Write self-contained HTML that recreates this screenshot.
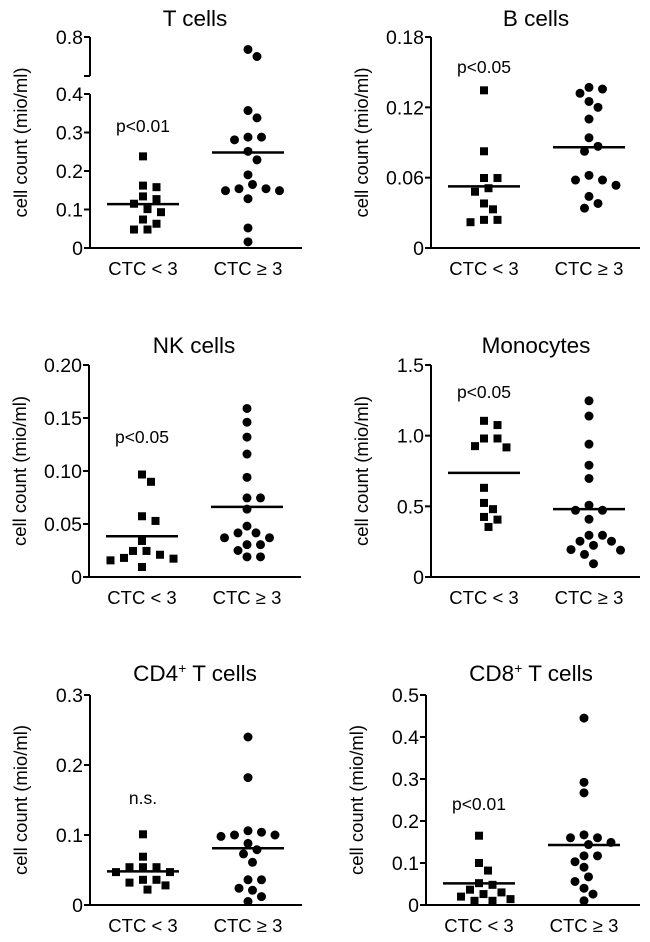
<!DOCTYPE html>
<html><head><meta charset="utf-8">
<style>
html,body{margin:0;padding:0;background:#fff;}
svg{display:block;font-family:"Liberation Sans",Arial,sans-serif;}
</style></head>
<body>
<svg id="fig" width="650" height="942" viewBox="0 0 650 942"></svg>
<script>
// ---- data ----
const categories = ["CTC < 3", "CTC \u2265 3"];
const tLow = [0.238,0.162,0.158,0.134,0.127,0.115,0.101,0.093,0.074,0.063,0.048,0.048];
const tHigh = [0.736,0.70,0.357,0.338,0.288,0.288,0.281,0.251,0.229,0.190,0.165,0.154,0.149,0.149,0.154,0.128,0.052,0.016];
const tMed = [0.114,0.248];
const bLow = [0.1345,0.0825,0.0597,0.0597,0.051,0.048,0.038,0.033,0.024,0.024,0.022];
const bHigh = [0.137,0.1356,0.132,0.125,0.12,0.110,0.094,0.0867,0.0825,0.062,0.058,0.058,0.0535,0.044,0.038,0.034];
const bMed = [0.0526,0.0859];
const nkLow = [0.0967,0.0898,0.0573,0.0529,0.034,0.0246,0.0246,0.021,0.018,0.0173,0.0157,0.0094];
const nkHigh = [0.159,0.146,0.132,0.116,0.094,0.0746,0.0746,0.064,0.048,0.0416,0.0416,0.037,0.037,0.0305,0.0305,0.025,0.019,0.019];
const nkMed = [0.0384,0.0661];
const moLow = [1.105,1.075,0.98,0.98,0.926,0.917,0.631,0.524,0.48,0.425,0.406,0.354];
const moHigh = [1.247,1.139,0.94,0.791,0.697,0.508,0.472,0.472,0.409,0.295,0.295,0.253,0.253,0.224,0.194,0.19,0.16,0.094];
const moMed = [0.737,0.48];
const cd4Low = [0.101,0.069,0.054,0.054,0.054,0.047,0.047,0.036,0.036,0.032,0.028,0.022];
const cd4High = [0.240,0.182,0.106,0.104,0.1,0.1,0.098,0.088,0.079,0.073,0.061,0.036,0.036,0.024,0.021,0.012,0.005];
const cd4Med = [0.048,0.081];
const cd8Low = [0.165,0.1,0.082,0.052,0.048,0.0365,0.03,0.026,0.02,0.014,0.01,0.01];
const cd8High = [0.445,0.292,0.267,0.167,0.16,0.16,0.149,0.144,0.117,0.117,0.103,0.09,0.067,0.056,0.04,0.026,0.01];
const cd8Med = [0.0516,0.143];
const tTicks = ["0","0.1","0.2","0.3","0.4"];
const tTopTicks = ["0.8"];
const bTicks = ["0","0.06","0.12","0.18"];
const nkTicks = ["0","0.05","0.10","0.15","0.20"];
const moTicks = ["0","0.5","1.0","1.5"];
const cd4Ticks = ["0","0.1","0.2","0.3"];
const cd8Ticks = ["0","0.1","0.2","0.3","0.4","0.5"];

const NS="http://www.w3.org/2000/svg";
const svg=document.getElementById('fig');
function mk(tag,attrs,parent){const e=document.createElementNS(NS,tag);for(const k in attrs)e.setAttribute(k,attrs[k]);(parent||svg).appendChild(e);return e;}

function panel(o){
  const g=mk('g',{});
  
  
  const L=o.L, y0=o.y0, yT=o.yTop, W=o.W;
  let yScale;
  if(o.brk){
    const lowTop=o.brk.lowTop, upBot=o.brk.upBot, lowMax=o.brk.lowMax, upMin=o.brk.upMin, upMax=o.brk.upMax;
    yScale=v=> v<=lowMax ? y0-(v/lowMax)*(y0-lowTop) : upBot-((v-upMin)/(upMax-upMin))*(upBot-yT);
    const a1=mk('line',{x1:L,x2:L,y1:y0,y2:lowTop,stroke:'#000','stroke-width':2},g);
    
    
    const a2=mk('line',{x1:L,x2:L,y1:upBot,y2:yT,stroke:'#000','stroke-width':2},g);
    
    
    const bt=mk('line',{x1:L-6,x2:L,y1:upBot,y2:upBot,stroke:'#000','stroke-width':2},g);
    
    
  } else {
    yScale=v=> y0-(v/o.max)*(y0-yT);
    const a=mk('line',{x1:L,x2:L,y1:y0,y2:yT,stroke:'#000','stroke-width':2},g);
    
    
  }
  const xa=mk('line',{x1:L-1,x2:L+W,y1:y0,y2:y0,stroke:'#000','stroke-width':2},g);
  
  
  const tickSets=[[o.ticks,o.tickVals]];
  if(o.brk) tickSets.push([o.topTicks,o.topVals]);
  tickSets.forEach(([labs,vals])=>{
    labs.forEach((lab,i)=>{
      const y=yScale(vals[i]);
      const tk=mk('line',{x1:L-6,x2:L,y1:y,y2:y,stroke:'#000','stroke-width':2},g);
      
      
      const t=mk('text',{x:L-7,y:y+7,'text-anchor':'end','font-size':19.5},g);
      t.textContent=lab;
      
      
    });
  });
  const ti=mk('text',{x:L+105,y:o.titleY,'text-anchor':'middle','font-size':22.5},g);
  ti.innerHTML=o.title;
  
  
  const yc=(y0+yT)/2;
  const yt=mk('text',{x:0,y:0,'text-anchor':'middle','font-size':18.5,transform:`translate(${L-63},${yc}) rotate(-90)`},g);
  yt.textContent='cell count (mio/ml)';
  
  
  const cx=[L+53,L+158];
  categories.forEach((c,i)=>{
    const t=mk('text',{x:cx[i],y:y0+27,'text-anchor':'middle','font-size':18.5},g);
    t.textContent=c;
    
    
  });
  const p=mk('text',{x:cx[0],y:o.pY,'text-anchor':'middle','font-size':17.5},g);
  p.textContent=o.p;
  
  
  [o.low,o.high].forEach((arr,gi)=>{
    const placed=[];
    const order=arr.map((v,i)=>i).sort((a,b)=>arr[b]-arr[a]);
    order.forEach(i=>{
      const y=yScale(arr[i]);
      let off=0;
      const cands=[0];
      for(let k=1;k<12;k++){cands.push(k*4.5,-k*4.5);}
      for(const c of cands){
        if(placed.every(p=>Math.hypot(p[0]-c,p[1]-y)>=10.5)){off=c;break;}
      }
      placed.push([off,y]);
      const x=cx[gi]+off;
      let m;
      if(gi===0){m=mk('rect',{x:x-4,y:y-4,width:8,height:8,fill:'#000'},g);
        }
      else{m=mk('circle',{cx:x,cy:y,r:4.5,fill:'#000'},g);
        }
      
    });
    const my=yScale(o.med[gi]);
    const ml=mk('line',{x1:cx[gi]-36,x2:cx[gi]+36,y1:my,y2:my,stroke:'#000','stroke-width':2.5},g);
    
    
  });
}
function vals(labs){return labs.map(Number);}

panel({name:'t-cells',title:'T cells',L:90,W:212,y0:248,yTop:37,titleY:26,pY:132,p:'p<0.01',
  brk:{lowTop:94,upBot:76,lowMax:0.4,upMin:0.6,upMax:0.8},
  ticks:tTicks,tickVals:vals(tTicks),topTicks:tTopTicks,topVals:vals(tTopTicks),
  low:tLow,high:tHigh,med:tMed});
panel({name:'b-cells',title:'B cells',L:431,W:209,y0:248,yTop:37,max:0.18,titleY:26,pY:73,p:'p<0.05',
  ticks:bTicks,tickVals:vals(bTicks),low:bLow,high:bHigh,med:bMed});
panel({name:'nk-cells',title:'NK cells',L:89,W:212,y0:577,yTop:365,max:0.20,titleY:353,pY:443,p:'p<0.05',
  ticks:nkTicks,tickVals:vals(nkTicks),low:nkLow,high:nkHigh,med:nkMed});
panel({name:'monocytes',title:'Monocytes',L:431,W:209,y0:577,yTop:365,max:1.5,titleY:353,pY:398,p:'p<0.05',
  ticks:moTicks,tickVals:vals(moTicks),low:moLow,high:moHigh,med:moMed});
panel({name:'cd4-t-cells',title:'CD4<tspan font-size="14" dy="-8">+</tspan><tspan dy="8"> T cells</tspan>',L:90,W:212,y0:905,yTop:695,max:0.3,titleY:681,pY:804,p:'n.s.',
  ticks:cd4Ticks,tickVals:vals(cd4Ticks),low:cd4Low,high:cd4High,med:cd4Med});
panel({name:'cd8-t-cells',title:'CD8<tspan font-size="14" dy="-8">+</tspan><tspan dy="8"> T cells</tspan>',L:426,W:214,y0:905,yTop:695,max:0.5,titleY:681,pY:810,p:'p<0.01',
  ticks:cd8Ticks,tickVals:vals(cd8Ticks),low:cd8Low,high:cd8High,med:cd8Med});
</script>
</body></html>
